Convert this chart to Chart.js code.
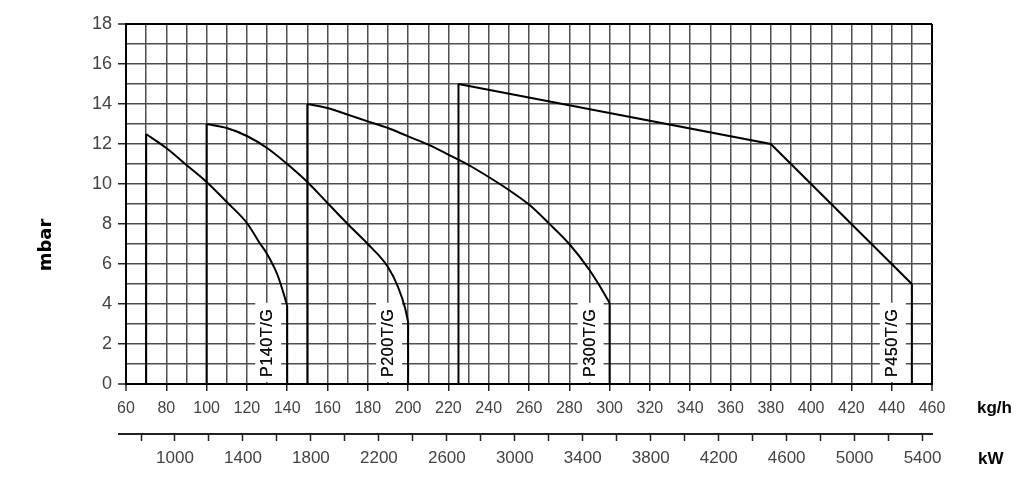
<!DOCTYPE html>
<html>
<head>
<meta charset="utf-8">
<script src="https://cdn.jsdelivr.net/npm/chart.js@4.4.1/dist/chart.umd.min.js"></script>
<style>
html,body{margin:0;padding:0;background:#fff;}
canvas{display:block;}
</style>
</head>
<body>
<canvas id="c" width="1024" height="494"></canvas>
<script>
// ---- data ----
const modelNames = ['P140T/G', 'P200T/G', 'P300T/G', 'P450T/G'];

const p140Flow     = [70, 80, 90, 100, 110, 120, 126, 130, 135, 138, 140];
const p140Pressure = [12.5, 11.8, 10.95, 10.1, 9.1, 8.05, 7.1, 6.5, 5.5, 4.6, 3.9];

const p200Flow     = [100, 110, 120, 130, 140, 150, 160, 170, 180, 190, 195, 198.5, 200];
const p200Pressure = [13.0, 12.8, 12.4, 11.8, 11.0, 10.1, 9.05, 8.0, 7.0, 5.85, 4.85, 3.8, 3.1];

const p300Flow     = [150, 160, 170, 180, 190, 200, 210, 220, 230, 240, 250, 260, 270, 280, 290, 296, 300];
const p300Pressure = [14.0, 13.8, 13.47, 13.13, 12.8, 12.38, 11.97, 11.47, 10.95, 10.35, 9.7, 8.97, 8.02, 7.0, 5.7, 4.75, 4.05];

const p450Flow     = [225, 380, 450];
const p450Pressure = [15, 12, 5];

const flowTickLabels = [60, 80, 100, 120, 140, 160, 180, 200, 220, 240, 260, 280, 300, 320, 340, 360, 380, 400, 420, 440, 460];
const pressureTickLabels = [0, 2, 4, 6, 8, 10, 12, 14, 16, 18];
const kwTickLabels = [1000, 1400, 1800, 2200, 2600, 3000, 3400, 3800, 4200, 4600, 5000, 5400];
const kwPerKgH = 11.86;   // conversion kg/h -> kW (natural gas)
const kwMinorStep = 200;
const flowMin = 60, flowMax = 460, flowGridStep = 10;
const pressureMin = 0, pressureMax = 18, pressureGridStep = 1;

// ---- build datasets ----
const toPoints = (xs, ys) => xs.map((x, i) => ({x: x, y: ys[i]}));
const curves = [
  {name: modelNames[0], pts: toPoints(p140Flow, p140Pressure), smooth: true},
  {name: modelNames[1], pts: toPoints(p200Flow, p200Pressure), smooth: true},
  {name: modelNames[2], pts: toPoints(p300Flow, p300Pressure), smooth: true},
  {name: modelNames[3], pts: toPoints(p450Flow, p450Pressure), smooth: false}
];
const datasets = [];
curves.forEach(c => {
  const first = c.pts[0], last = c.pts[c.pts.length - 1];
  const ds = {
    label: c.name, data: c.pts,
    borderColor: '#000', borderWidth: 2, pointRadius: 0, fill: false
  };
  if (c.smooth) { ds.cubicInterpolationMode = 'monotone'; } else { ds.tension = 0; }
  datasets.push(ds);
  datasets.push({
    label: c.name + ' limits',
    data: [{x: first.x, y: 0}, {x: first.x, y: first.y}, {x: first.x, y: null},
           {x: last.x, y: last.y}, {x: last.x, y: 0}],
    tension: 0, borderColor: '#000', borderWidth: 2, pointRadius: 0, fill: false, spanGaps: false
  });
});

const GRID = '#4f4f4f';
const TICKFONT = "'Liberation Sans', Arial, sans-serif";

const labelPlugin = {
  id: 'modelLabels',
  beforeDatasetsDraw(chart) {
    const {ctx} = chart;
    const x = chart.scales.x, y = chart.scales.y;
    curves.forEach(c => {
      const last = c.pts[c.pts.length - 1];
      const px = x.getPixelForValue(last.x) - 15;
      const py = y.getPixelForValue(0) - 7;
      ctx.save();
      ctx.translate(px, py);
      ctx.rotate(-Math.PI / 2);
      ctx.font = "16px " + TICKFONT;
      if ('letterSpacing' in ctx) ctx.letterSpacing = '0.6px';
      const w = ctx.measureText(c.name).width;
      ctx.fillStyle = '#fff';
      ctx.fillRect(-5, -17, w + 11, 26);
      ctx.fillStyle = '#111';
      ctx.textAlign = 'left';
      ctx.textBaseline = 'alphabetic';
      ctx.fillText(c.name, 0, 0);
      ctx.fillText(c.name, 0.3, 0);
      ctx.restore();
    });
  }
};

const unitsPlugin = {
  id: 'units',
  afterDraw(chart) {
    const {ctx} = chart;
    const x = chart.scales.x, x2 = chart.scales.x2, y = chart.scales.y;
    ctx.save();
    // extend kW axis line slightly to the left
    ctx.strokeStyle = '#222';
    ctx.lineWidth = 2;
    ctx.beginPath();
    ctx.moveTo(x2.left - 8, x2.top);
    ctx.lineTo(x2.left, x2.top);
    ctx.stroke();
    ctx.fillStyle = '#000';
    ctx.textAlign = 'left';
    ctx.textBaseline = 'middle';
    ctx.font = "bold 17px 'Liberation Sans', Arial, sans-serif";
    ctx.fillText('kg/h', x.right + 45, x.top + 24);
    ctx.fillText('kW', x2.right + 46, x2.top + 25);
    ctx.translate(46, (y.top + y.bottom) / 2 + 41);
    ctx.rotate(-Math.PI / 2);
    ctx.textAlign = 'center';
    ctx.font = "bold 18px 'DejaVu Sans', sans-serif";
    ctx.fillText('mbar', 0, 0);
    ctx.restore();
  }
};

new Chart(document.getElementById('c'), {
  type: 'line',
  data: {datasets: datasets},
  options: {
    responsive: false,
    animation: false,
    devicePixelRatio: 1,
    layout: {padding: {left: 0, right: 92, top: 24, bottom: 0}},
    plugins: {legend: {display: false}, tooltip: {enabled: false}},
    scales: {
      x: {
        type: 'linear', position: 'bottom', min: flowMin, max: flowMax,
        afterFit(s) { s.height = 50; },
        ticks: {
          stepSize: flowGridStep, autoSkip: false, maxRotation: 0, minRotation: 0,
          padding: 8, color: '#444', font: {family: TICKFONT, size: 16},
          callback: v => flowTickLabels.includes(v) ? String(v) : ''
        },
        grid: {
          color: c => (c.tick && (c.tick.value === flowMax || c.tick.value === flowMin)) ? '#000' : GRID,
          lineWidth: c => (c.tick && (c.tick.value === flowMax || c.tick.value === flowMin)) ? 2 : 1.5,
          tickLength: 7,
          tickColor: c => (c.tick && flowTickLabels.includes(c.tick.value)) ? '#222' : 'rgba(0,0,0,0)',
          tickWidth: 1.5
        },
        border: {display: true, color: '#000', width: 2}
      },
      x2: {
        type: 'linear', axis: 'x', position: 'bottom',
        min: flowMin * kwPerKgH, max: flowMax * kwPerKgH,
        afterFit(s) { s.height = 60; },
        afterBuildTicks(s) {
          const t = [];
          for (let v = Math.ceil(s.min / kwMinorStep) * kwMinorStep; v <= s.max; v += kwMinorStep) t.push({value: v});
          s.ticks = t;
        },
        ticks: {
          autoSkip: false, maxRotation: 0, minRotation: 0,
          padding: 7, color: '#444', font: {family: TICKFONT, size: 17},
          callback: v => kwTickLabels.includes(v) ? String(v) : ''
        },
        grid: {drawOnChartArea: false, drawTicks: true, tickLength: 7, tickColor: '#222', tickWidth: 1.5},
        border: {display: true, color: '#222', width: 2}
      },
      y: {
        type: 'linear', position: 'left', min: pressureMin, max: pressureMax,
        afterFit(s) { s.width = 126; },
        ticks: {
          stepSize: pressureGridStep, autoSkip: false, padding: 6, color: '#444',
          font: {family: TICKFONT, size: 18},
          callback: v => pressureTickLabels.includes(v) ? String(v) : ''
        },
        grid: {
          color: c => (c.tick && (c.tick.value === pressureMax || c.tick.value === pressureMin)) ? '#000' : GRID,
          lineWidth: c => (c.tick && (c.tick.value === pressureMax || c.tick.value === pressureMin)) ? 2 : 1.5,
          tickLength: 8,
          tickColor: c => (c.tick && pressureTickLabels.includes(c.tick.value)) ? '#222' : 'rgba(0,0,0,0)',
          tickWidth: 1.5
        },
        border: {display: true, color: '#000', width: 2}
      }
    }
  },
  plugins: [labelPlugin, unitsPlugin]
});
</script>
</body>
</html>
